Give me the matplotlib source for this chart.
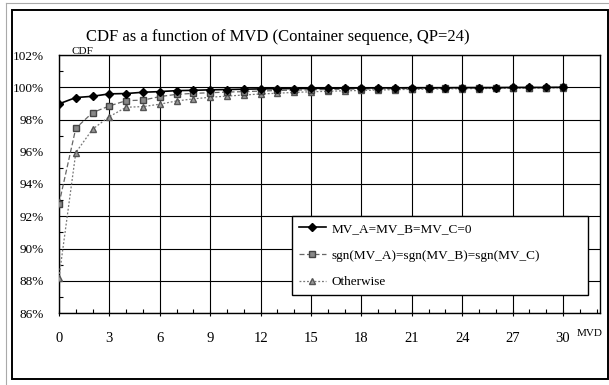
import matplotlib.pyplot as plt
import numpy as np
from matplotlib.patches import Rectangle
from matplotlib.ticker import MultipleLocator, FuncFormatter

plt.rcParams['font.family'] = ['Liberation Serif', 'DejaVu Serif']

# MVD values (x) and CDF in percent for the three cases
mvd = list(range(0, 31))
cdf_zero = [98.97, 99.36, 99.44, 99.59, 99.61, 99.69, 99.73, 99.79, 99.81, 99.84,
            99.86, 99.88, 99.90, 99.91, 99.92, 99.93, 99.94, 99.95, 99.95, 99.96,
            99.96, 99.97, 99.97, 99.97, 99.98, 99.98, 99.98, 99.99, 99.99, 99.99, 100.0]
cdf_same_sign = [92.77, 97.46, 98.43, 98.84, 99.17, 99.20, 99.42, 99.56, 99.62, 99.66,
                 99.70, 99.73, 99.76, 99.80, 99.82, 99.84, 99.86, 99.88, 99.89, 99.90,
                 99.91, 99.92, 99.93, 99.94, 99.95, 99.96, 99.96, 99.97, 99.97, 99.98, 99.99]
cdf_other = [88.20, 95.95, 97.40, 98.18, 98.76, 98.80, 98.95, 99.15, 99.28, 99.38,
             99.45, 99.52, 99.58, 99.63, 99.68, 99.72, 99.75, 99.78, 99.80, 99.83,
             99.85, 99.87, 99.88, 99.90, 99.91, 99.92, 99.93, 99.94, 99.95, 99.96, 99.97]
labels = ['MV_A=MV_B=MV_C=0', 'sgn(MV_A)=sgn(MV_B)=sgn(MV_C)', 'Otherwise']

W, H = 609, 385
fig = plt.figure(figsize=(W / 100, H / 100), dpi=100)

def fx(px):
    return px / W

def fy(py):
    return 1 - py / H

# chart border
fig.patches.append(Rectangle((fx(12), fy(379)), fx(596), 369 / H, transform=fig.transFigure,
                             fill=False, edgecolor='black', linewidth=1.4))
fig.add_artist(plt.Line2D([fx(6), fx(6)], [fy(3), fy(385)], transform=fig.transFigure,
                          color='#aaaaaa', linewidth=0.8))
fig.add_artist(plt.Line2D([fx(6), fx(609)], [fy(3), fy(3)], transform=fig.transFigure,
                          color='#aaaaaa', linewidth=0.8))

ax = fig.add_axes([fx(59), fy(313), fx(600 - 59), (313 - 55) / H])

ax.plot(mvd, cdf_zero, color='black', linestyle='-', linewidth=1.2,
        marker='D', markersize=4.5, markerfacecolor='black', label=labels[0], zorder=5)
ax.plot(mvd, cdf_same_sign, color='#666666', linestyle=(0, (4, 2)), linewidth=0.9,
        marker='s', markersize=4.5, markerfacecolor='#888888', markeredgecolor='#444444',
        label=labels[1], zorder=4)
ax.plot(mvd, cdf_other, color='#777777', linestyle=(0, (1.5, 1.5)), linewidth=0.9,
        marker='^', markersize=4.5, markerfacecolor='#999999', markeredgecolor='#555555',
        label=labels[2], zorder=3)

ax.set_xlim(0, 32.2)
ax.set_ylim(86, 102)
ax.xaxis.set_major_locator(MultipleLocator(3))
ax.xaxis.set_minor_locator(MultipleLocator(1))
ax.yaxis.set_major_locator(MultipleLocator(2))
ax.yaxis.set_minor_locator(MultipleLocator(1))
ax.set_xticks(range(0, 31, 3))
ax.yaxis.set_major_formatter(FuncFormatter(lambda v, p: '%d%%' % v))
ax.grid(True, which='major', color='black', linewidth=0.8)
ax.tick_params(axis='x', which='major', direction='inout', length=5, width=0.8,
               labelsize=10.5, pad=11)
ax.tick_params(axis='x', which='minor', direction='in', length=3, width=0.8)
ax.tick_params(axis='y', which='major', direction='in', length=0, labelsize=9.5, pad=11)
ax.tick_params(axis='y', which='minor', direction='in', length=3, width=0.8)
for s in ax.spines.values():
    s.set_linewidth(1.0)

fig.text(fx(278), fy(37), 'CDF as a function of MVD (Container sequence, QP=24)',
         ha='center', va='center', fontsize=12)
fig.text(fx(82), fy(51), 'CDF', ha='center', va='center', fontsize=8)
fig.text(fx(590), fy(333), 'MVD', ha='center', va='center', fontsize=8)

leg = ax.legend(loc='lower left',
                bbox_to_anchor=(fx(292), fy(295), fx(588 - 292), (295 - 214) / H),
                bbox_transform=fig.transFigure, mode='expand', borderaxespad=0,
                fontsize=9.5, frameon=True, fancybox=False, framealpha=1,
                edgecolor='black', numpoints=1, handlelength=2.1, labelspacing=1.1,
                borderpad=0.5, handletextpad=0.4)
leg.get_frame().set_linewidth(1.0)
leg.set_zorder(10)

fig.savefig('out.png', dpi=100)
